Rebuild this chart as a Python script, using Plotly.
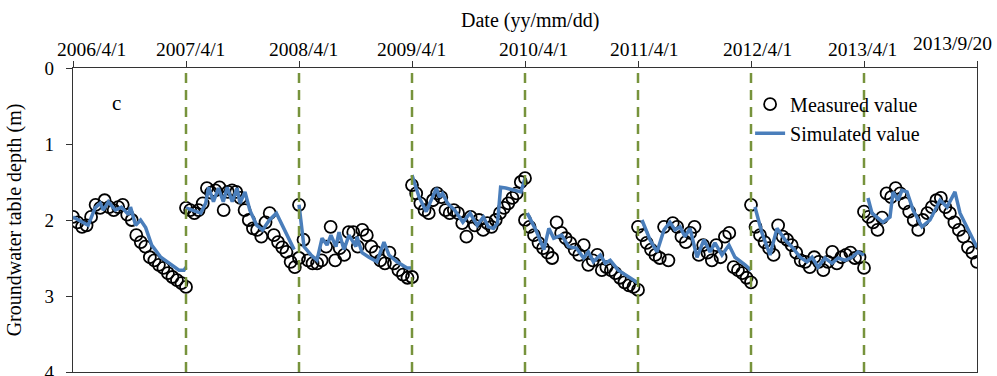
import numpy as np
import plotly.graph_objects as go

# ---------------- data ----------------
tick_labels = ["2006/4/1", "2007/4/1", "2008/4/1", "2009/4/1", "2010/4/1",
               "2011/4/1", "2012/4/1", "2013/4/1", "2013/9/20"]
season_index = list(range(len(tick_labels)))  # period boundaries (equal spacing on the original axis)

# measured groundwater table depth (m), one list per season, evenly spaced observations
meas_2006 = [1.96, 2.03, 2.09, 2.07, 1.96, 1.80, 1.84, 1.74, 1.83, 1.87, 1.83, 1.80, 1.93,
             2.00, 2.20, 2.29, 2.35, 2.49, 2.53, 2.59, 2.63, 2.70, 2.75, 2.79, 2.83, 2.88]
meas_2007 = [1.84, 1.87, 1.91, 1.87, 1.78, 1.58, 1.64, 1.61, 1.57, 1.87, 1.63, 1.61, 1.63, 1.71,
             1.87, 2.00, 2.11, 2.13, 2.22, 2.03, 1.91, 2.20, 2.29, 2.36, 2.42, 2.55, 2.62, 2.50]
meas_2008 = [1.80, 2.26, 2.53, 2.57, 2.57, 2.53, 2.35, 2.09, 2.53, 2.37, 2.46, 2.16, 2.16,
             2.35, 2.13, 2.20, 2.35, 2.42, 2.53, 2.57, 2.43, 2.57, 2.66, 2.72, 2.76, 2.75]
meas_2009 = [1.54, 1.65, 1.78, 1.87, 1.91, 1.74, 1.65, 1.70, 1.87, 1.91, 1.87, 1.91, 2.04, 2.22,
             1.96, 2.07, 2.00, 2.13, 2.04, 2.09, 2.00, 1.91, 1.84, 1.78, 1.71, 1.65, 1.50, 1.45]
meas_2010 = [2.00, 2.09, 2.20, 2.30, 2.37, 2.43, 2.50, 2.03, 2.17, 2.24, 2.30, 2.39, 2.46,
             2.33, 2.59, 2.53, 2.46, 2.66, 2.62, 2.66, 2.70, 2.76, 2.82, 2.86, 2.88, 2.92]
meas_2011 = [2.09, 2.20, 2.30, 2.39, 2.46, 2.50, 2.09, 2.53, 2.04, 2.09, 2.22, 2.29, 2.17, 2.09,
             2.46, 2.33, 2.43, 2.53, 2.33, 2.49, 2.22, 2.17, 2.62, 2.66, 2.70, 2.76, 2.82]
meas_2012 = [1.80, 2.09, 2.20, 2.29, 2.37, 2.46, 2.07, 2.22, 2.26, 2.33, 2.43, 2.53, 2.55,
             2.62, 2.49, 2.55, 2.66, 2.55, 2.42, 2.57, 2.49, 2.46, 2.43, 2.50, 2.49, 2.63]
meas_2013 = [1.89, 1.96, 2.03, 2.13, 1.97, 1.65, 1.70, 1.58, 1.65, 1.78, 1.89, 2.00, 2.13,
             2.00, 1.91, 1.83, 1.74, 1.71, 1.83, 1.91, 2.03, 2.13, 2.22, 2.36, 2.43, 2.55]

# simulated depth (m): time (season index + fraction of season) and value
sim_t_2006 = [0.000, 0.134, 0.196, 0.241, 0.268, 0.313, 0.375, 0.429, 0.491, 0.509, 0.554,
              0.598, 0.643, 0.696, 0.777, 0.848, 0.938, 0.982, 1.000]
sim_2006 = [1.96, 2.07, 1.84, 1.78, 1.87, 1.76, 1.87, 1.83, 1.93, 1.83, 2.07,
            2.00, 2.10, 2.33, 2.49, 2.57, 2.66, 2.66, 2.62]
sim_t_2007 = [1.000, 1.130, 1.174, 1.200, 1.243, 1.287, 1.330, 1.365, 1.409, 1.452, 1.478,
              1.522, 1.565, 1.626, 1.678, 1.739, 1.800, 1.870, 1.957]
sim_2007 = [1.84, 1.91, 1.78, 1.57, 1.76, 1.58, 1.76, 1.57, 1.76, 1.58, 1.78,
            1.63, 1.87, 2.07, 2.13, 2.00, 1.91, 2.13, 2.39]
sim_t_2008 = [2.000, 2.044, 2.106, 2.159, 2.204, 2.248, 2.283, 2.327, 2.354, 2.398, 2.442,
              2.504, 2.513, 2.558, 2.619, 2.690, 2.752, 2.796, 2.867, 2.956, 3.000]
sim_2008 = [1.80, 2.35, 2.46, 2.53, 2.24, 2.33, 2.20, 2.35, 2.16, 2.39, 2.20,
            2.35, 2.22, 2.43, 2.49, 2.55, 2.29, 2.46, 2.55, 2.63, 2.63]
sim_t_2009 = [3.000, 3.063, 3.126, 3.171, 3.216, 3.243, 3.270, 3.315, 3.378, 3.450, 3.514,
              3.577, 3.631, 3.676, 3.721, 3.757, 3.784, 3.829, 3.919, 3.964, 4.000]
sim_2009 = [1.41, 1.70, 1.89, 1.74, 1.58, 1.70, 1.65, 1.78, 1.87, 2.03, 1.91,
            2.07, 1.96, 2.09, 2.11, 2.04, 1.57, 1.58, 1.61, 1.63, 1.45]
sim_t_2010 = [4.020, 4.096, 4.167, 4.211, 4.254, 4.325, 4.386, 4.456, 4.518, 4.561, 4.605,
              4.667, 4.711, 4.754, 4.825, 4.912, 5.000]
sim_2010 = [1.91, 2.13, 2.39, 2.11, 2.24, 2.20, 2.35, 2.37, 2.50, 2.42, 2.55,
            2.46, 2.57, 2.53, 2.66, 2.75, 2.83]
sim_t_2011 = [5.035, 5.106, 5.168, 5.230, 5.283, 5.327, 5.372, 5.416, 5.460, 5.522, 5.584,
              5.637, 5.681, 5.743, 5.805, 5.858, 5.947, 6.000]
sim_2011 = [2.00, 2.26, 2.42, 2.13, 2.03, 2.13, 2.09, 2.22, 2.11, 2.49, 2.26,
            2.42, 2.30, 2.46, 2.33, 2.49, 2.59, 2.66]
sim_t_2012 = [6.035, 6.097, 6.168, 6.230, 6.301, 6.372, 6.434, 6.496, 6.540, 6.593, 6.655,
              6.717, 6.770, 6.832, 6.894, 6.947, 7.000]
sim_2012 = [1.83, 2.17, 2.46, 2.11, 2.26, 2.37, 2.49, 2.55, 2.49, 2.62, 2.50,
            2.57, 2.50, 2.53, 2.49, 2.42, 2.46]
sim_t_2013 = [7.035, 7.071, 7.168, 7.230, 7.257, 7.301, 7.336, 7.381, 7.434, 7.513, 7.584,
              7.673, 7.735, 7.805, 7.850, 7.920, 8.000]
sim_2013 = [1.71, 1.91, 2.03, 1.96, 1.63, 1.74, 1.61, 1.63, 1.87, 2.09, 2.00,
            1.74, 1.83, 1.63, 1.91, 2.13, 2.36]

y_ticks = [0, 1, 2, 3, 4]

# ---------------- build ----------------
meas_seasons = [meas_2006, meas_2007, meas_2008, meas_2009, meas_2010, meas_2011, meas_2012, meas_2013]
sim_seasons = [(sim_t_2006, sim_2006), (sim_t_2007, sim_2007), (sim_t_2008, sim_2008),
               (sim_t_2009, sim_2009), (sim_t_2010, sim_2010), (sim_t_2011, sim_2011),
               (sim_t_2012, sim_2012), (sim_t_2013, sim_2013)]

mx, my = [], []
for k, vals in enumerate(meas_seasons):
    mx.extend(np.linspace(season_index[k], season_index[k + 1], len(vals)).tolist())
    my.extend(vals)

sx, sy = [], []
for t, v in sim_seasons:
    sx.extend(t + [None])
    sy.extend(v + [None])

FONT = "Liberation Serif, Times New Roman, serif"

fig = go.Figure()
fig.add_trace(go.Scatter(
    x=mx, y=my, mode="markers", name="Measured value",
    marker=dict(symbol="circle-open", size=12, color="black", line=dict(width=1.8, color="black")),
))
fig.add_trace(go.Scatter(
    x=sx, y=sy, mode="lines", name="Simulated value", connectgaps=False,
    line=dict(color="#4A7EBB", width=3.5),
))

for k in season_index[1:-1]:
    fig.add_shape(type="line", xref="x", yref="paper", x0=k, x1=k, y0=0, y1=1,
                  line=dict(color="#77933C", width=2.5, dash="10px,7px"), layer="above")

# top tick labels as annotations (edge labels pulled inward like the original)
label_xshift = [18, 4, 4, -1, 8, 6, 6, -2, -25]
label_yshift = [19, 19, 19, 19, 19, 19, 19, 19, 25]
for k, lab in enumerate(tick_labels):
    fig.add_annotation(x=season_index[k], y=1, xref="x", yref="paper", text=lab,
                       showarrow=False, xanchor="center", yanchor="middle",
                       xshift=label_xshift[k], yshift=label_yshift[k],
                       font=dict(family=FONT, size=19.5, color="black"))

fig.add_annotation(x=0.505, y=1, xref="paper", yref="paper", text="Date (yy/mm/dd)",
                   showarrow=False, xanchor="center", yanchor="middle", yshift=48,
                   font=dict(family=FONT, size=20, color="black"))
fig.add_annotation(x=0.048, y=0.885, xref="paper", yref="paper", text="c",
                   showarrow=False, xanchor="center", yanchor="middle",
                   font=dict(family=FONT, size=21, color="black"))

fig.update_layout(
    width=997, height=376,
    margin=dict(l=73, r=20, t=68, b=4, autoexpand=False),
    paper_bgcolor="white", plot_bgcolor="white",
    font=dict(family=FONT, size=19, color="black"),
    showlegend=True,
    legend=dict(x=0.749, y=0.945, xanchor="left", yanchor="top",
                bgcolor="rgba(0,0,0,0)", font=dict(family=FONT, size=20, color="black"),
                tracegroupgap=0, itemwidth=30),
    xaxis=dict(
        range=[season_index[0], season_index[-1]], side="top", automargin=False,
        tickmode="array", tickvals=season_index, ticktext=[""] * len(season_index),
        showticklabels=False, ticks="outside", ticklen=6, tickwidth=1.3, tickcolor="#333",
        showline=True, linecolor="#333", linewidth=1.3, mirror=True,
        showgrid=False, zeroline=False,
    ),
    yaxis=dict(
        range=[4, 0], tickmode="array", tickvals=y_ticks, automargin=False,
        ticks="outside", ticklen=6, tickwidth=1.3, tickcolor="#333",
        showline=True, linecolor="#333", linewidth=1.3, mirror=True,
        showgrid=False, zeroline=False, ticklabelstandoff=8, ticklabeloverflow="allow",
        tickfont=dict(family=FONT, size=19, color="black"),
        title=dict(text="Groundwater table depth (m)", standoff=17,
                   font=dict(family=FONT, size=20, color="black")),
    ),
)

fig.write_html("out.html", config={"displayModeBar": False},
               post_script="document.body.style.margin='0';document.body.style.overflow='hidden';")
